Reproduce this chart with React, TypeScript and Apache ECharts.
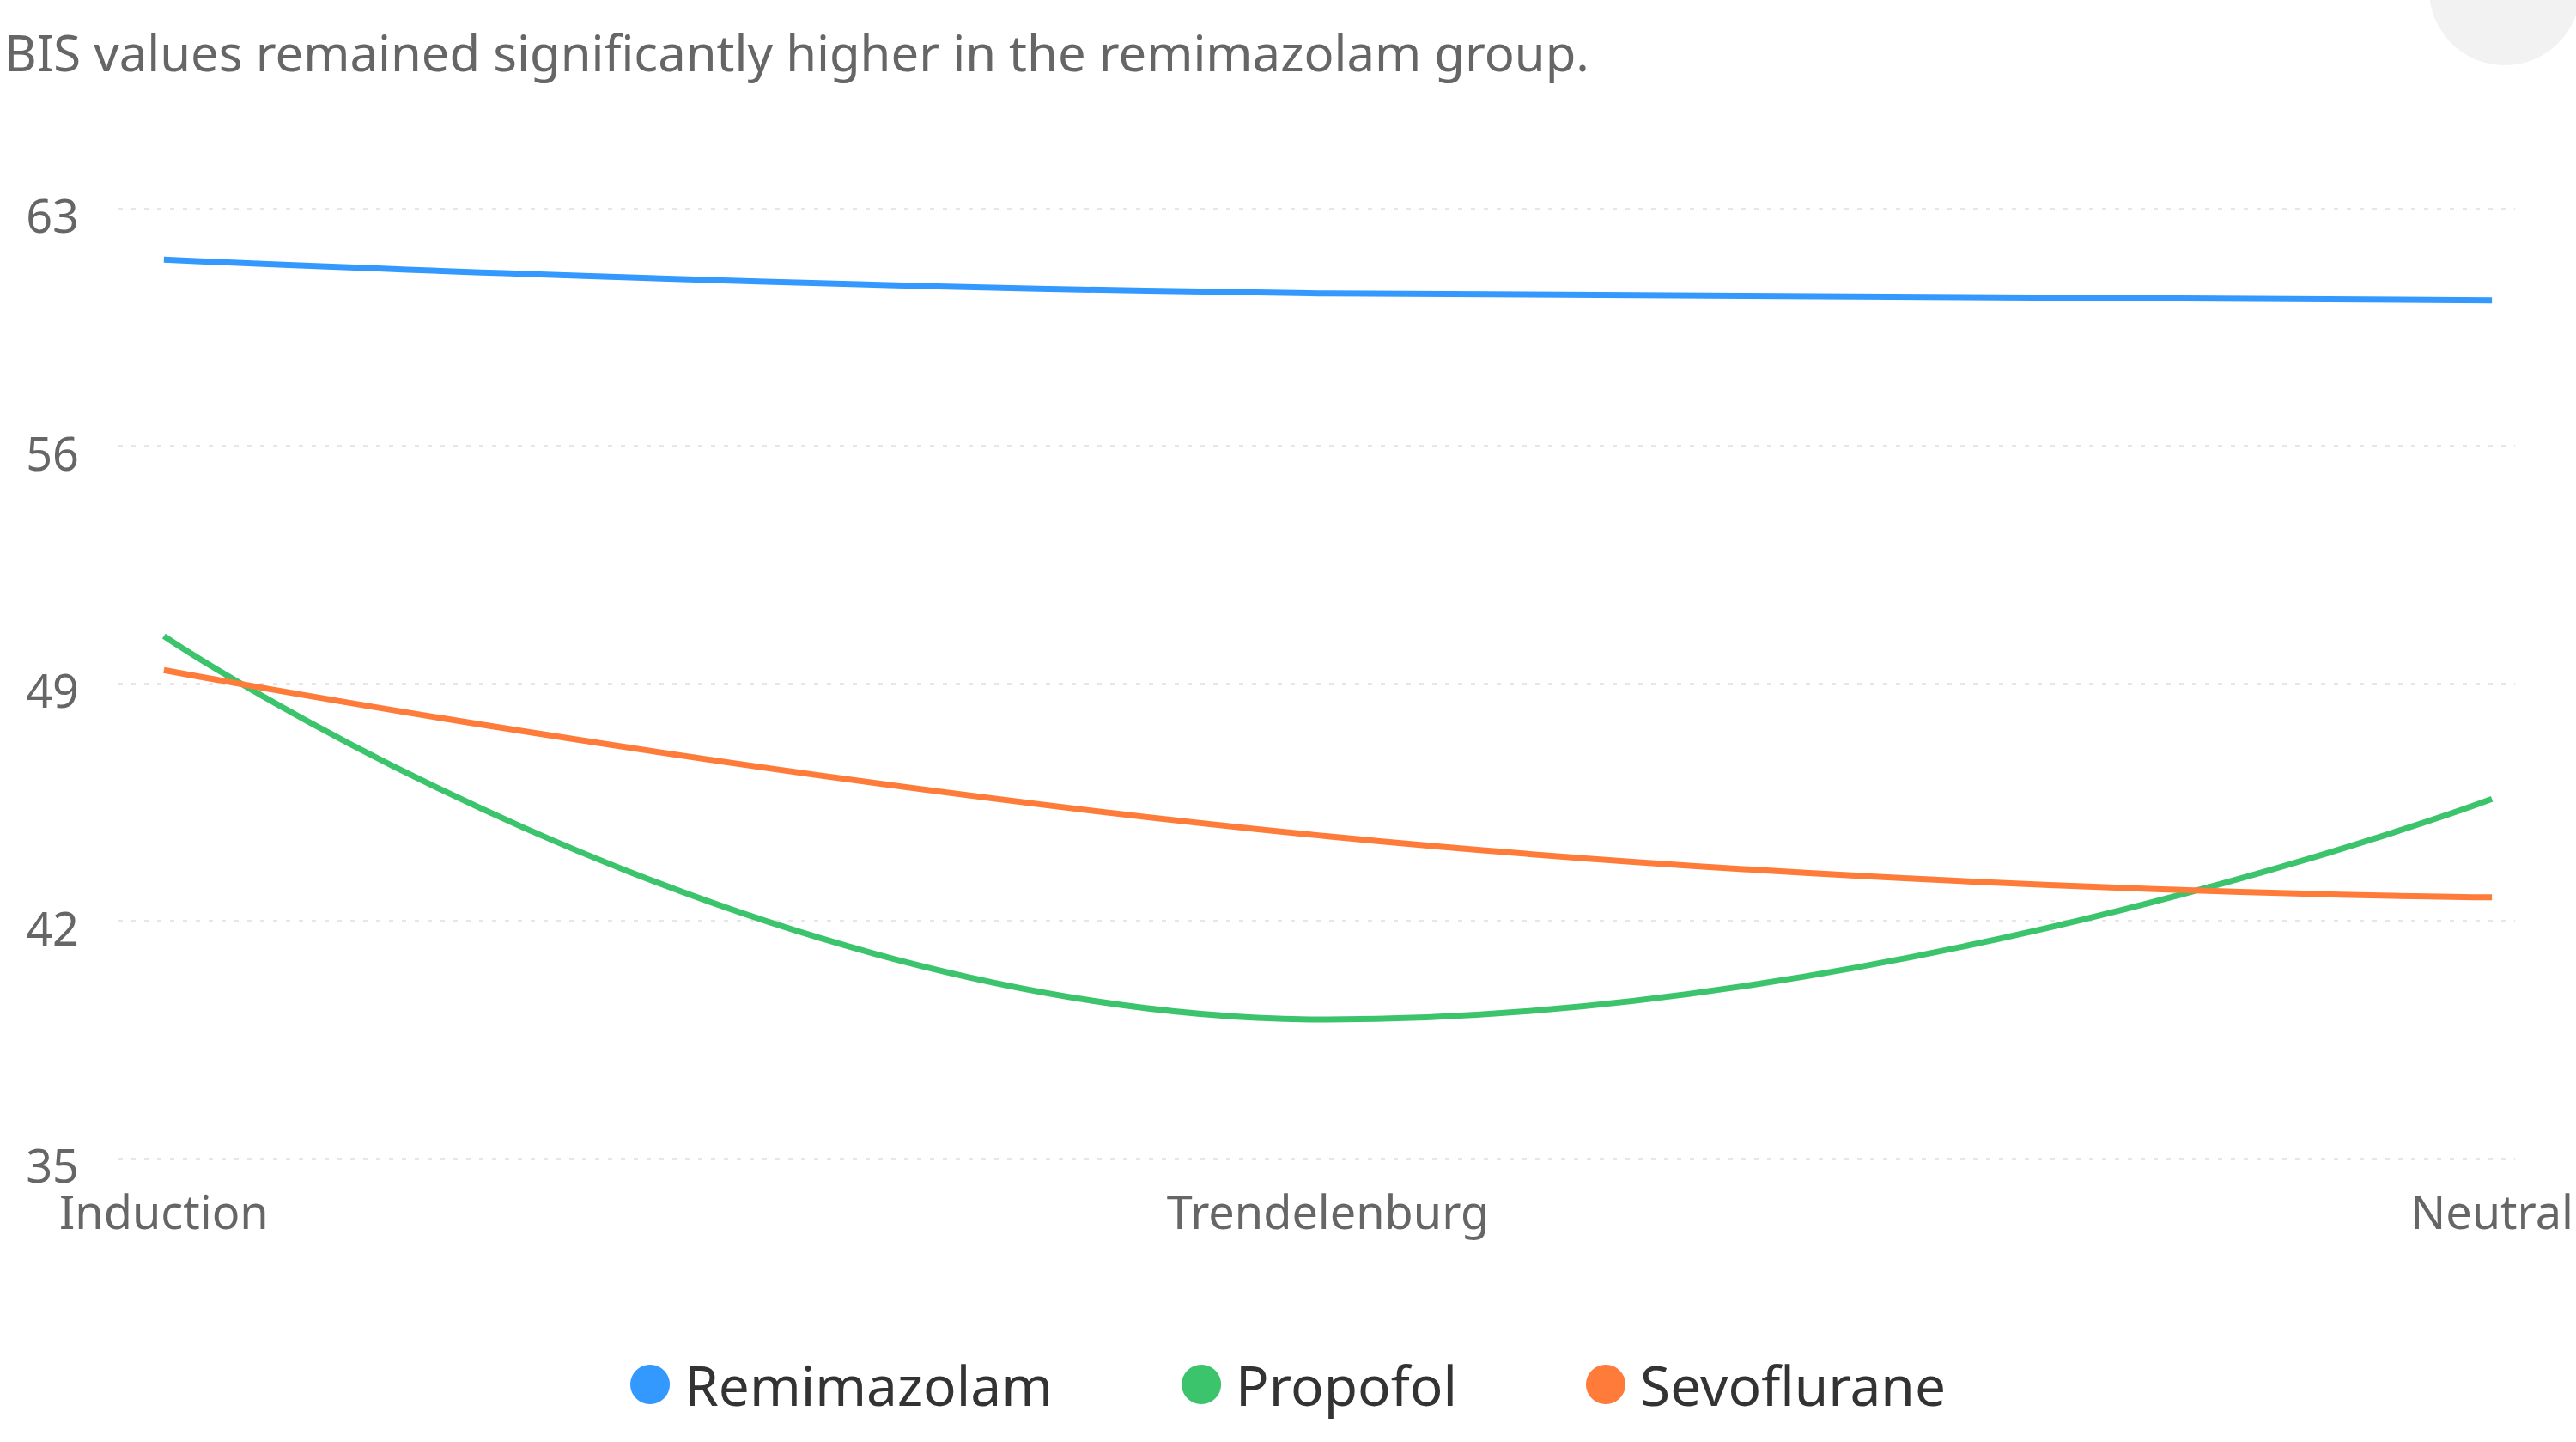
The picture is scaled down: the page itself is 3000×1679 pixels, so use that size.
import { useRef, useEffect } from "react";
import * as echarts from "echarts";

const categories = ["Induction", "Trendelenburg", "Neutral"];
const remimazolam = [61.5, 60.5, 60.3];
const propofol = [50.4, 39.1, 45.6];
const sevoflurane = [49.4, 44.5, 42.7];
const seriesNames = ["Remimazolam", "Propofol", "Sevoflurane"];
const colors = ["#3399ff", "#3cc46c", "#ff7b3a"];

const toPoints = (arr: number[]) => arr.map((v, i) => [i, v]);

export default function App() {
  const chartRef = useRef<HTMLDivElement>(null);

  useEffect(() => {
    if (!chartRef.current) return;
    const chart = echarts.init(chartRef.current, null, { renderer: "svg" });
    const font = "Noto Sans";

    chart.setOption({
      animation: false,
      title: {
        text: "BIS values remained significantly higher in the remimazolam group.",
        left: 0,
        top: 26,
        textStyle: { color: "#666", fontSize: 58, fontWeight: "normal", fontFamily: font, letterSpacing: 3 },
      },
      graphic: [
        {
          type: "circle",
          shape: { cx: 2917, cy: -12, r: 88 },
          style: { fill: "#f2f2f2" },
        },
      ],
      legend: {
        data: seriesNames,
        bottom: 30,
        left: "center",
        icon: "circle",
        itemWidth: 46,
        itemHeight: 46,
        itemGap: 150,
        textStyle: { color: "#333", fontSize: 64, fontFamily: font, padding: [0, 0, 0, 12] },
      },
      grid: { left: 138, right: 35, top: 243, bottom: 330 },
      xAxis: {
        type: "value",
        min: -0.039,
        max: 2.02,
        axisLine: { show: false },
        axisTick: { show: false },
        splitLine: { show: false },
        axisLabel: {
          customValues: [0, 1, 2],
          formatter: (v: number) => categories[Math.round(v)] ?? "",
          color: "#666",
          fontSize: 54,
          fontFamily: font,
          margin: 34,
          showMinLabel: true,
          showMaxLabel: true,
        },
      },
      yAxis: {
        type: "value",
        min: 35,
        max: 63,
        interval: 7,
        axisLine: { show: false },
        axisTick: { show: false },
        axisLabel: { color: "#666", fontSize: 54, fontFamily: font, margin: 46, verticalAlign: "top", padding: [-20, 0, 0, 0] },
        splitLine: { lineStyle: { color: "#e6e6e6", type: [5, 10], width: 3 } },
      },
      series: [remimazolam, propofol, sevoflurane].map((d, i) => ({
        name: seriesNames[i],
        type: "line",
        smooth: true,
        showSymbol: false,
        data: toPoints(d),
        itemStyle: { color: colors[i] },
        lineStyle: { color: colors[i], width: 7 },
      })),
    });

    return () => chart.dispose();
  }, []);

  return (
    <div
      ref={chartRef}
      style={{ position: "absolute", left: 0, top: 0, width: 3000, height: 1679, background: "#fff" }}
    />
  );
}
